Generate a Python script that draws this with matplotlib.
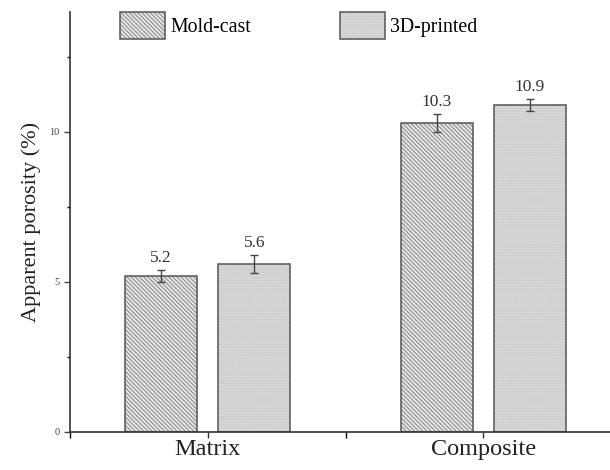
import numpy as np
import matplotlib.pyplot as plt
from matplotlib.ticker import MultipleLocator

plt.rcParams['font.family'] = ['Liberation Serif', 'DejaVu Serif']
plt.rcParams['hatch.linewidth'] = 0.8

# data
categories = ['Matrix', 'Composite']
series = ['Mold-cast', '3D-printed']
mold_cast = [5.2, 10.3]
mold_cast_err = [0.2, 0.3]
printed = [5.6, 10.9]
printed_err = [0.3, 0.2]

x = np.arange(1, len(categories) + 1)
w = 0.262
off = (w + 0.076) / 2

fig = plt.figure(figsize=(6.1, 4.7), dpi=100)
ax = fig.add_axes([0.1148, 0.081, 0.8852, 0.894])

ekw = dict(ecolor='#444444', elinewidth=1.0, capsize=3, capthick=1.0)

# fill + hatch layer, then outline layer on top
h1 = ax.bar(x - off, mold_cast, w, color='#e8e8e8', edgecolor='#8f8f8f',
            linewidth=0, hatch='\\' * 8)
o1 = ax.bar(x - off, mold_cast, w, yerr=mold_cast_err, fill=False,
            edgecolor='#555555', linewidth=1.1, error_kw=ekw)
h2 = ax.bar(x + off, printed, w, color='#d8d8d8', edgecolor='#c6c6c6',
            linewidth=0, hatch='.' * 6)
o2 = ax.bar(x + off, printed, w, yerr=printed_err, fill=False,
            edgecolor='#555555', linewidth=1.1, error_kw=ekw)

for xs, vals, errs in [(x - off, mold_cast, mold_cast_err), (x + off, printed, printed_err)]:
    for xi, v, e in zip(xs, vals, errs):
        ax.text(xi, v + e + 0.12, f'{v}', ha='center', va='bottom', fontsize=12.5, color='#333333')

ax.set_xlim(0.5, 2.46)
ax.set_ylim(0, 14)
ax.set_xticks(x)
ax.set_xticklabels(categories, fontsize=17.5)
ax.xaxis.set_minor_locator(MultipleLocator(0.5))
ax.yaxis.set_major_locator(MultipleLocator(5))
ax.yaxis.set_minor_locator(MultipleLocator(2.5))
ax.tick_params(axis='y', labelsize=7.5, length=4, width=1, colors='#444444')
ax.tick_params(axis='y', which='minor', length=2, width=1)
ax.tick_params(axis='x', length=4, width=1, colors='#333333', labelcolor='#222222', pad=1)
ax.tick_params(axis='x', which='minor', length=4, width=1)
ax.set_ylabel('Apparent porosity (%)', fontsize=16, color='#222222', labelpad=6)
for s in ['top', 'right']:
    ax.spines[s].set_visible(False)
for s in ['left', 'bottom']:
    ax.spines[s].set_color('#333333')
    ax.spines[s].set_linewidth(1.2)

ax.legend([(h1[0], o1[0]), (h2[0], o2[0])], series, loc='upper left', ncol=2,
          frameon=False, fontsize=14.3, bbox_to_anchor=(0.0926, 1.0),
          borderaxespad=0, borderpad=0, handlelength=2.27, handleheight=1.75,
          columnspacing=4.5, handletextpad=0.25)

fig.savefig('out.png', dpi=100)
